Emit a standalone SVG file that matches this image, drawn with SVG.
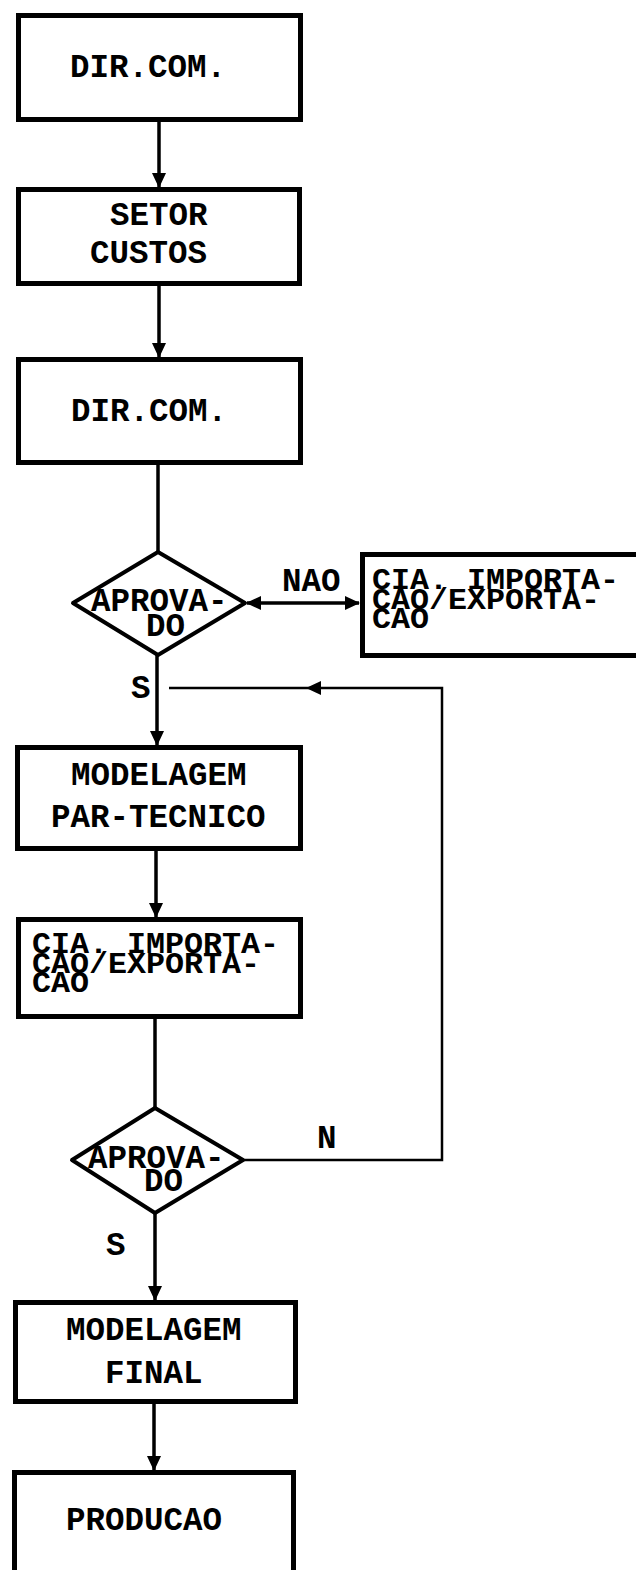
<svg xmlns="http://www.w3.org/2000/svg" width="636" height="1570" viewBox="0 0 636 1570">
<style>
.box{fill:#fff;stroke:#000;stroke-width:5}
.dia{fill:#fff;stroke:#000;stroke-width:4;stroke-linejoin:round}
.ln{fill:none;stroke:#000;stroke-width:3.5}
.fb{fill:none;stroke:#000;stroke-width:2.5}
.ah{fill:#000}
text{font-family:"Liberation Mono","DejaVu Sans Mono",monospace;font-weight:bold;font-size:32.5px;fill:#000}
.sm{font-size:29px}
</style>
<defs>
<path id="ad" d="M-7,-15 L7,-15 L0,0 Z"/>
</defs>
<rect width="636" height="1570" fill="#fff"/>
<g id="connectors">
<line class="ln" x1="159" y1="122" x2="159" y2="187"/>
<use href="#ad" class="ah" x="159" y="188"/>
<line class="ln" x1="159" y1="286" x2="159" y2="357"/>
<use href="#ad" class="ah" x="159" y="358"/>
<line class="ln" x1="158" y1="465" x2="158" y2="552"/>
<line class="ln" x1="157" y1="655" x2="157" y2="745"/>
<use href="#ad" class="ah" x="157" y="746"/>
<line class="ln" x1="247" y1="603" x2="359" y2="603"/>
<path class="ah" d="M246,603 L261,596 L261,610 Z"/>
<path class="ah" d="M360,603 L345,596 L345,610 Z"/>
<line class="ln" x1="156" y1="851" x2="156" y2="917"/>
<use href="#ad" class="ah" x="156" y="918"/>
<line class="ln" x1="155" y1="1019" x2="155" y2="1108"/>
<line class="ln" x1="155" y1="1213" x2="155" y2="1300"/>
<use href="#ad" class="ah" x="155" y="1301"/>
<line class="ln" x1="154" y1="1404" x2="154" y2="1470"/>
<use href="#ad" class="ah" x="154" y="1471"/>
<polyline class="fb" points="243,1160 442,1160 442,688 169,688"/>
<path class="ah" d="M306,688 L321,681 L321,695 Z"/>
</g>
<g id="n1"><rect class="box" x="18.5" y="15.5" width="282" height="104"/><text x="70" y="77">DIR.COM.</text></g>
<g id="n2"><rect class="box" x="18.5" y="189.5" width="281" height="94"/><text x="110" y="225">SETOR</text><text x="90" y="263">CUSTOS</text></g>
<g id="n3"><rect class="box" x="18.5" y="359.5" width="282" height="103"/><text x="71" y="421">DIR.COM.</text></g>
<g id="d1"><polygon class="dia" points="158,552 245,603 158,655 73,603"/><text x="91" y="611">APROVA-</text><text x="146" y="636">DO</text></g>
<g id="l-nao"><text x="282" y="591">NAO</text></g>
<g id="n-cia1"><rect class="box" x="362.5" y="554.5" width="290" height="101"/>
<text class="sm" x="372" y="589" textLength="247" lengthAdjust="spacingAndGlyphs">CIA. IMPORTA-</text>
<text class="sm" x="372" y="608.5" textLength="228" lengthAdjust="spacingAndGlyphs">CAO/EXPORTA-</text>
<text class="sm" x="372" y="628" textLength="57" lengthAdjust="spacingAndGlyphs">CAO</text></g>
<g id="l-s1"><text x="131" y="698">S</text></g>
<g id="n4"><rect class="box" x="17.5" y="747.5" width="283" height="101"/><text x="71" y="785">MODELAGEM</text><text x="51" y="827">PAR-TECNICO</text></g>
<g id="n5"><rect class="box" x="18.5" y="919.5" width="282" height="97"/>
<text class="sm" x="32" y="953" textLength="247" lengthAdjust="spacingAndGlyphs">CIA. IMPORTA-</text>
<text class="sm" x="32" y="972.5" textLength="228" lengthAdjust="spacingAndGlyphs">CAO/EXPORTA-</text>
<text class="sm" x="32" y="992" textLength="57" lengthAdjust="spacingAndGlyphs">CAO</text></g>
<g id="d2"><polygon class="dia" points="155,1108 243,1160 155,1213 72,1160"/><text x="88" y="1168">APROVA-</text><text x="144" y="1191">DO</text></g>
<g id="l-n"><text x="317" y="1148">N</text></g>
<g id="l-s2"><text x="106" y="1255">S</text></g>
<g id="n6"><rect class="box" x="15.5" y="1302.5" width="280" height="99"/><text x="66" y="1340">MODELAGEM</text><text x="105" y="1383">FINAL</text></g>
<g id="n7"><rect class="box" x="14.5" y="1472.5" width="279" height="110"/><text x="66" y="1530">PRODUCAO</text></g>
</svg>
